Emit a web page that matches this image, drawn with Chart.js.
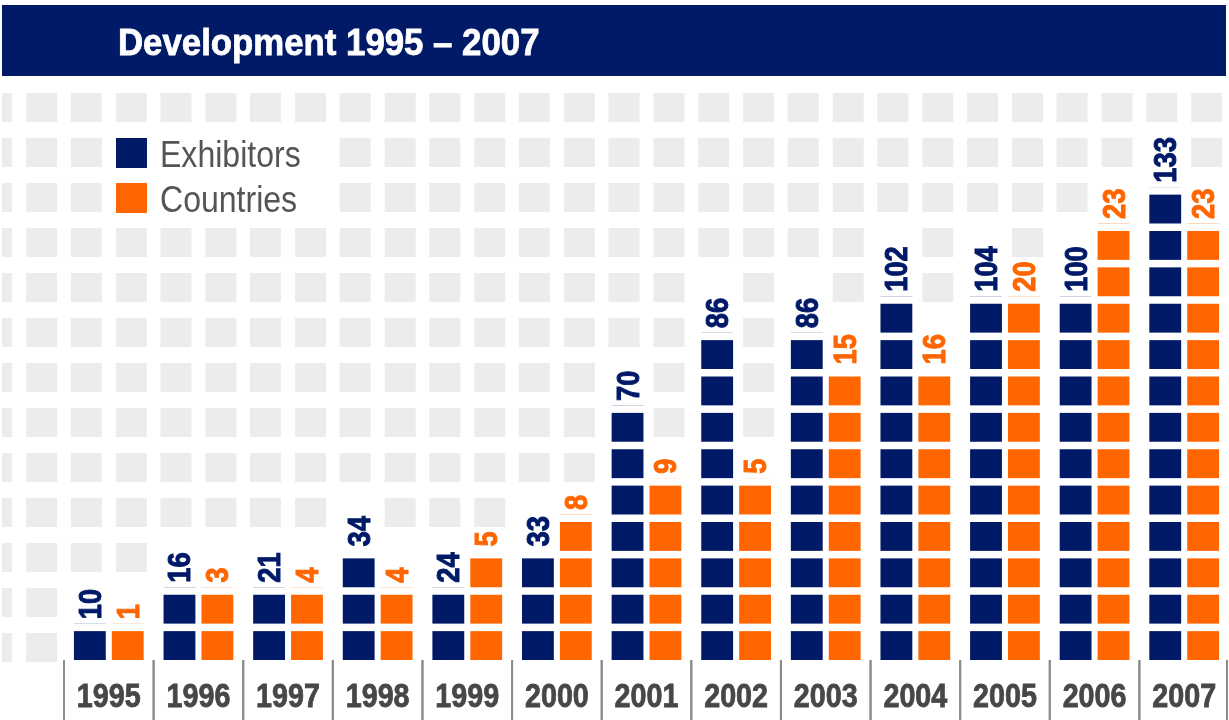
<!DOCTYPE html>
<html>
<head>
<meta charset="utf-8">
<title>Development 1995 – 2007</title>
<script src="https://cdn.jsdelivr.net/npm/chart.js@4.4.1/dist/chart.umd.min.js"></script>
<style>
  html, body { margin: 0; padding: 0; background: #fff; }
  canvas { display: block; }
</style>
</head>
<body>
<canvas id="devChart" width="1229" height="720"></canvas>
<script>
const years = ['1995', '1996', '1997', '1998', '1999', '2000', '2001', '2002', '2003', '2004', '2005', '2006', '2007'];
const exhibitors = [10, 16, 21, 34, 24, 33, 70, 86, 86, 102, 104, 100, 133];
const countries = [1, 3, 4, 4, 5, 8, 9, 5, 15, 16, 20, 23, 23];
// column heights in blocks, as printed on the original
const exhibitorBlocks = [1, 2, 2, 3, 2, 3, 7, 9, 9, 10, 10, 10, 13];
const countryBlocks = [1, 2, 2, 2, 3, 4, 5, 5, 8, 8, 10, 12, 12];

const navy = '#001a68';
const orange = '#ff6600';
const FONT = '"Liberation Sans", Arial, sans-serif';
const GAP = 7.5;          // white space between blocks
const LABEL_FONT = 'bold 31px ' + FONT;
const LABEL_SX = 0.88;
const valueLabels = [exhibitors, countries];

// text squeezed horizontally to imitate a condensed face
function drawText(ctx, text, x, y, font, color, sx, align, heavy) {
    ctx.save();
    ctx.font = font;
    ctx.fillStyle = color;
    ctx.strokeStyle = color;
    ctx.lineWidth = 0.8;
    ctx.textBaseline = 'alphabetic';
    ctx.textAlign = 'left';
    const w = ctx.measureText(text).width * sx;
    let x0 = x;
    if (align === 'center') x0 = x - w / 2;
    ctx.translate(x0, y);
    ctx.scale(sx, 1);
    ctx.fillText(text, 0, 0);
    if (heavy) ctx.strokeText(text, 0, 0);
    ctx.restore();
}

function labelLength(ctx, text) {
    ctx.save();
    ctx.font = LABEL_FONT;
    const w = ctx.measureText(text).width * LABEL_SX;
    ctx.restore();
    return w;
}

const blocksPlugin = {
    id: 'blocks',
    beforeDraw(chart) {
        const ctx = chart.ctx;
        ctx.save();
        ctx.fillStyle = '#fff';
        ctx.fillRect(0, 0, chart.width, chart.height);
        ctx.fillStyle = navy;
        ctx.fillRect(2, 5, chart.width - 5, 71);
        ctx.restore();
        drawText(ctx, 'Development 1995 – 2007', 118, 55, 'bold 37px ' + FONT, '#fff', 0.94, 'left', true);
    },
    beforeDatasetsDraw(chart) {
        const ctx = chart.ctx;
        const xs = chart.scales.x;
        // zones where the grey background is left out: bars + their labels, legend
        const clear = [{ l: 112, r: 305, t: 134, b: 216 }];
        chart.data.datasets.forEach((ds, di) => {
            chart.getDatasetMeta(di).data.forEach((bar, i) => {
                const top = bar.y + GAP;
                const len = labelLength(ctx, String(valueLabels[di][i]));
                clear.push({ l: bar.x - bar.width / 2, r: bar.x + bar.width / 2, t: top - 12 - len - 2, b: chart.height });
            });
        });
        ctx.save();
        ctx.fillStyle = '#ececef';
        for (let i = -1; i < years.length; i++) {
            const c = xs.getPixelForValue(i);
            [c - 38, c + 7].forEach(cx => {
                for (let r = 0; r < 13; r++) {
                    const cy = 93 + 45 * r;
                    const hit = clear.some(z => cx < z.r && cx + 31 > z.l && cy < z.b && cy + 30 > z.t);
                    if (!hit) ctx.fillRect(Math.max(cx, 2), cy, 31 - (Math.max(cx, 2) - cx), 29);
                }
            });
        }
        ctx.restore();
    },
    afterDatasetsDraw(chart) {
        const ctx = chart.ctx;
        const xs = chart.scales.x, ys = chart.scales.y;
        const colors = [navy, orange];

        chart.data.datasets.forEach((ds, di) => {
            chart.getDatasetMeta(di).data.forEach((bar, i) => {
                // cut the bar into blocks
                ctx.save();
                ctx.fillStyle = '#fff';
                for (let k = 1; k <= ds.data[i]; k++) {
                    ctx.fillRect(bar.x - bar.width / 2 - 1, ys.getPixelForValue(k), bar.width + 2, GAP);
                }
                ctx.restore();

                // rotated value label
                const top = ys.getPixelForValue(ds.data[i]) + GAP;
                ctx.save();
                ctx.translate(bar.x, top - 12);
                ctx.rotate(-Math.PI / 2);
                ctx.scale(LABEL_SX, 1);
                ctx.font = LABEL_FONT;
                ctx.fillStyle = colors[di];
                ctx.strokeStyle = colors[di];
                ctx.lineWidth = 1;
                ctx.textAlign = 'left';
                ctx.textBaseline = 'alphabetic';
                ctx.fillText(String(valueLabels[di][i]), 0, 11);
                ctx.strokeText(String(valueLabels[di][i]), 0, 11);
                ctx.restore();
            });
        });

        // legend
        ctx.save();
        chart.data.datasets.forEach((ds, di) => {
            const y0 = 138 + 45 * di;
            ctx.fillStyle = ds.backgroundColor;
            ctx.fillRect(116, y0, 31, 30);
            drawText(ctx, ds.label, 160, y0 + 29, '36px ' + FONT, '#555555', 0.89, 'left');
        });
        ctx.restore();

        // year labels and separators
        const half = (xs.getPixelForValue(1) - xs.getPixelForValue(0)) / 2;
        ctx.save();
        ctx.strokeStyle = '#8c8c8c';
        ctx.lineWidth = 2;
        years.forEach((yr, i) => {
            const c = xs.getPixelForValue(i);
            drawText(ctx, yr, c, 707, 'bold 33px ' + FONT, '#474747', 0.87, 'center', true);
            [c - half, c + half].forEach(sx => {
                const px = Math.min(sx, chart.width - 2);
                ctx.beginPath();
                ctx.moveTo(px, ys.bottom);
                ctx.lineTo(px, chart.height);
                ctx.stroke();
            });
        });
        ctx.restore();
    }
};

new Chart(document.getElementById('devChart'), {
    type: 'bar',
    data: {
        labels: years,
        datasets: [
            { label: 'Exhibitors', data: exhibitorBlocks, backgroundColor: navy },
            { label: 'Countries', data: countryBlocks, backgroundColor: orange }
        ]
    },
    options: {
        responsive: false,
        animation: false,
        devicePixelRatio: 1,
        layout: { padding: { left: 64, right: -3, top: 78, bottom: 60 } },
        datasets: {
            bar: { categoryPercentage: 0.846, barPercentage: 0.84, borderWidth: 0 }
        },
        scales: {
            x: { display: false },
            y: { display: false, min: 0, max: 16 }
        },
        plugins: {
            legend: { display: false },
            tooltip: { enabled: false }
        }
    },
    plugins: [blocksPlugin]
});
</script>
</body>
</html>
